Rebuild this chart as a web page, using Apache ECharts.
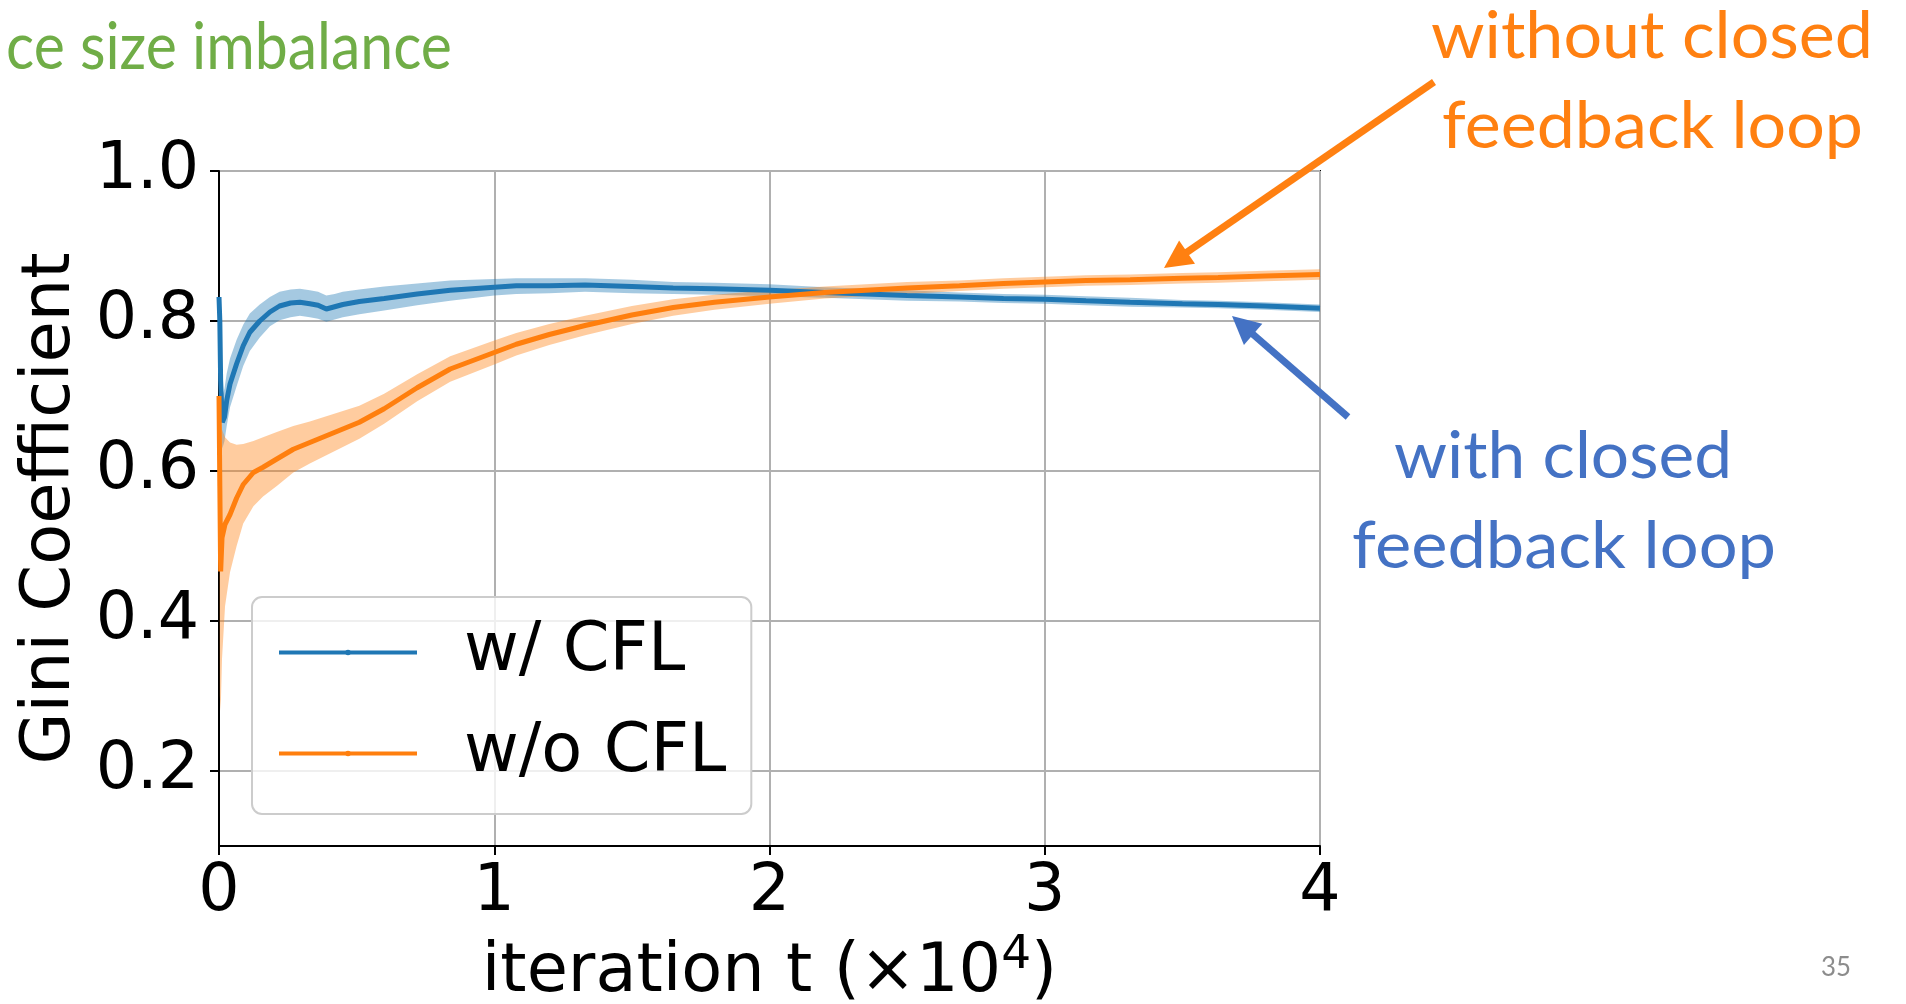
<!DOCTYPE html>
<html>
<head>
<meta charset="utf-8">
<script src="https://cdn.jsdelivr.net/npm/echarts@6/dist/echarts.min.js"></script>
<style>
html,body{margin:0;padding:0;background:#ffffff;}
#chart{width:1906px;height:1004px;}
</style>
</head>
<body>
<div id="chart"></div>
<script>
// ---------- data ----------
const seriesNames = ['w/ CFL', 'w/o CFL'];
const xTicks = [0, 1, 2, 3, 4];
const yTicks = [0.2, 0.4, 0.6, 0.8, 1.0];

const tBlue    = [0, 0.003, 0.006, 0.012, 0.02, 0.028, 0.04, 0.064, 0.088, 0.112, 0.148, 0.185, 0.22, 0.26, 0.294, 0.33, 0.36, 0.39, 0.42, 0.45, 0.51, 0.6, 0.72, 0.84, 1.0, 1.08, 1.2, 1.33, 1.5, 1.65, 1.8, 2.0, 2.2, 2.35, 2.5, 2.69, 2.85, 3.0, 3.15, 3.31, 3.5, 3.63, 3.8, 4.0];
const blueMean = [0.832, 0.80, 0.72, 0.665, 0.672, 0.694, 0.716, 0.743, 0.767, 0.785, 0.800, 0.812, 0.820, 0.824, 0.825, 0.823, 0.821, 0.816, 0.819, 0.822, 0.826, 0.830, 0.836, 0.841, 0.845, 0.847, 0.847, 0.848, 0.846, 0.844, 0.843, 0.841, 0.838, 0.836, 0.834, 0.832, 0.830, 0.829, 0.827, 0.825, 0.823, 0.822, 0.820, 0.817];
const blueLo   = [0.822, 0.77, 0.68, 0.63, 0.64, 0.66, 0.685, 0.713, 0.74, 0.76, 0.778, 0.793, 0.801, 0.805, 0.807, 0.805, 0.803, 0.799, 0.802, 0.805, 0.809, 0.814, 0.821, 0.827, 0.834, 0.836, 0.837, 0.839, 0.837, 0.836, 0.835, 0.833, 0.831, 0.829, 0.827, 0.826, 0.824, 0.823, 0.821, 0.819, 0.818, 0.817, 0.815, 0.812];
const blueHi   = [0.842, 0.83, 0.76, 0.70, 0.71, 0.73, 0.75, 0.775, 0.795, 0.81, 0.822, 0.832, 0.839, 0.842, 0.843, 0.841, 0.839, 0.834, 0.836, 0.839, 0.842, 0.846, 0.850, 0.854, 0.856, 0.857, 0.857, 0.857, 0.855, 0.852, 0.851, 0.849, 0.845, 0.843, 0.841, 0.838, 0.836, 0.835, 0.833, 0.831, 0.828, 0.827, 0.825, 0.822];

const tOrange    = [0, 0.003, 0.006, 0.011, 0.022, 0.04, 0.064, 0.088, 0.125, 0.16, 0.21, 0.27, 0.33, 0.39, 0.45, 0.51, 0.6, 0.72, 0.84, 1.0, 1.08, 1.2, 1.33, 1.5, 1.65, 1.8, 2.0, 2.2, 2.35, 2.5, 2.69, 2.85, 3.0, 3.15, 3.31, 3.5, 3.63, 3.8, 4.0];
const orangeMean = [0.70, 0.58, 0.466, 0.511, 0.529, 0.542, 0.564, 0.582, 0.598, 0.605, 0.616, 0.629, 0.638, 0.647, 0.656, 0.665, 0.683, 0.711, 0.736, 0.758, 0.769, 0.782, 0.794, 0.808, 0.818, 0.825, 0.832, 0.838, 0.841, 0.844, 0.847, 0.850, 0.852, 0.854, 0.855, 0.857, 0.858, 0.860, 0.862];
const orangeLo   = [0.64, 0.30, 0.28, 0.35, 0.42, 0.465, 0.50, 0.53, 0.553, 0.566, 0.580, 0.598, 0.610, 0.621, 0.632, 0.643, 0.663, 0.693, 0.719, 0.742, 0.754, 0.768, 0.781, 0.796, 0.807, 0.815, 0.823, 0.830, 0.833, 0.836, 0.840, 0.843, 0.845, 0.847, 0.848, 0.850, 0.851, 0.853, 0.855];
const orangeHi   = [0.72, 0.70, 0.67, 0.655, 0.645, 0.638, 0.635, 0.636, 0.640, 0.645, 0.652, 0.660, 0.666, 0.673, 0.680, 0.687, 0.703, 0.729, 0.753, 0.774, 0.784, 0.796, 0.807, 0.820, 0.829, 0.835, 0.841, 0.846, 0.849, 0.852, 0.854, 0.857, 0.859, 0.861, 0.862, 0.864, 0.865, 0.867, 0.869];

// ---------- helpers ----------
const BLUE = '#1f77b4', ORANGE = '#ff7f0e';
const ANN_ORANGE = '#ff8011', ANN_BLUE = '#4472c4', ANN_GREEN = '#70ad47';
const pairs = (xs, ys) => xs.map((x, i) => [x, ys[i]]);

function bandSeries(name, ts, lo, hi, color) {
  return {
    name: name, type: 'custom', silent: true,
    data: ts.map((t, i) => [t, lo[i], hi[i]]),
    encode: { x: 0, y: [1, 2] },
    renderItem: function (params, api) {
      if (params.dataIndex !== 0) return null;
      const upper = ts.map((t, i) => api.coord([t, hi[i]]));
      const lower = ts.map((t, i) => api.coord([t, lo[i]])).reverse();
      return { type: 'polygon', shape: { points: upper.concat(lower) }, style: { fill: color, opacity: 0.4 } };
    }
  };
}

const ctx = document.createElement('canvas').getContext('2d');
function measure(text, font) { ctx.font = font; return ctx.measureText(text).width; }
function annText(text, left, baseline, width, size, color) {
  const font = size + 'px Lato';
  const sx = width / measure(text, font);
  return {
    type: 'text', x: left, y: baseline - 0.387 * size, scaleX: sx, silent: true, z: 10,
    style: { text: text, x: 0, y: 0, fill: color, font: font, align: 'left', verticalAlign: 'middle' }
  };
}
function arrow(x1, y1, x2, y2, color) {
  const dx = x2 - x1, dy = y2 - y1, L = Math.sqrt(dx * dx + dy * dy);
  const ux = dx / L, uy = dy / L, px = -uy, py = ux;
  const hl = 28, hw = 14;
  const bx = x2 - ux * hl, by = y2 - uy * hl;
  return [
    { type: 'line', silent: true, z: 10, shape: { x1: x1, y1: y1, x2: bx + ux * 2, y2: by + uy * 2 }, style: { stroke: color, lineWidth: 7 } },
    { type: 'polygon', silent: true, z: 10, shape: { points: [[x2, y2], [bx + px * hw, by + py * hw], [bx - px * hw, by - py * hw]] }, style: { fill: color } }
  ];
}

const chart = echarts.init(document.getElementById('chart'), null, { renderer: 'canvas' });
const tickFont = { fontFamily: 'DejaVu Sans', fontSize: 65, color: '#000' };
const nameFont = { fontFamily: 'DejaVu Sans', fontSize: 67, color: '#000' };

const option = {
  animation: false,
  backgroundColor: '#ffffff',
  grid: { left: 219, right: 586, top: 171, bottom: 158, containLabel: false, outerBoundsMode: 'none', show: true, borderColor: '#000', borderWidth: 2, backgroundColor: 'transparent' },
  xAxis: {
    type: 'value', min: 0, max: 4, interval: 1,
    axisLine: { show: true, onZero: false, lineStyle: { color: '#000', width: 2 } },
    axisTick: { show: true, length: 9, lineStyle: { color: '#000', width: 2 } },
    axisLabel: Object.assign({ margin: 15, customValues: xTicks }, tickFont),
    splitLine: { show: true, lineStyle: { color: '#b0b0b0', width: 2 } },
    name: '{a|iteration t (×10}{s|4}{a|)}', nameLocation: 'middle', nameGap: 86,
    nameTextStyle: Object.assign({
      rich: {
        a: { fontFamily: 'DejaVu Sans', fontSize: 67, lineHeight: 84, color: '#000' },
        s: { fontFamily: 'DejaVu Sans', fontSize: 47, lineHeight: 47, color: '#000', verticalAlign: 'top' }
      }
    }, nameFont)
  },
  yAxis: {
    type: 'value', min: 0.1, max: 1.0,
    axisLine: { show: true, onZero: false, lineStyle: { color: '#000', width: 2 } },
    axisTick: { show: true, length: 9, lineStyle: { color: '#000', width: 2 }, customValues: yTicks },
    axisLabel: Object.assign({ margin: 20, customValues: yTicks, formatter: v => (+v).toFixed(1) }, tickFont),
    splitLine: { show: true, lineStyle: { color: '#b0b0b0', width: 2 } },
    name: 'Gini Coefficient', nameLocation: 'middle', nameRotate: 90, nameGap: 133,
    nameTextStyle: nameFont
  },
  legend: {
    data: seriesNames, orient: 'vertical', left: 252, top: 597,
    padding: [22, 25, 27, 25], itemGap: 34, itemWidth: 138, itemHeight: 7,
    lineStyle: { width: 4 },
    backgroundColor: 'rgba(255,255,255,0.8)', borderColor: '#cccccc', borderWidth: 2, borderRadius: 10,
    textStyle: { fontFamily: 'DejaVu Sans', fontSize: 67, color: '#000', padding: [0, 0, 0, 42] }
  },
  series: [
    bandSeries('blue-band', tBlue, blueLo, blueHi, BLUE),
    { name: seriesNames[0], type: 'line', data: pairs(tBlue, blueMean), symbol: 'circle', symbolSize: 5, showSymbol: false, itemStyle: { color: BLUE }, lineStyle: { color: BLUE, width: 5 } },
    bandSeries('orange-band', tOrange, orangeLo, orangeHi, ORANGE),
    { name: seriesNames[1], type: 'line', data: pairs(tOrange, orangeMean), symbol: 'circle', symbolSize: 5, showSymbol: false, itemStyle: { color: ORANGE }, lineStyle: { color: ORANGE, width: 5 } }
  ],
  graphic: [
    annText('ce size imbalance', 6, 73, 446, 66, ANN_GREEN),
    annText('without closed', 1431, 62, 442, 66, ANN_ORANGE),
    annText('feedback loop', 1442, 152, 421, 66, ANN_ORANGE),
    annText('with closed', 1394, 482, 338, 66, ANN_BLUE),
    annText('feedback loop', 1352, 572, 424, 66, ANN_BLUE),
    annText('35', 1821, 978, 30, 27, '#8c8c8c')
  ].concat(arrow(1434, 82, 1164, 268, ANN_ORANGE), arrow(1348, 417, 1232, 316, ANN_BLUE))
};
chart.setOption(option);
</script>
</body>
</html>
